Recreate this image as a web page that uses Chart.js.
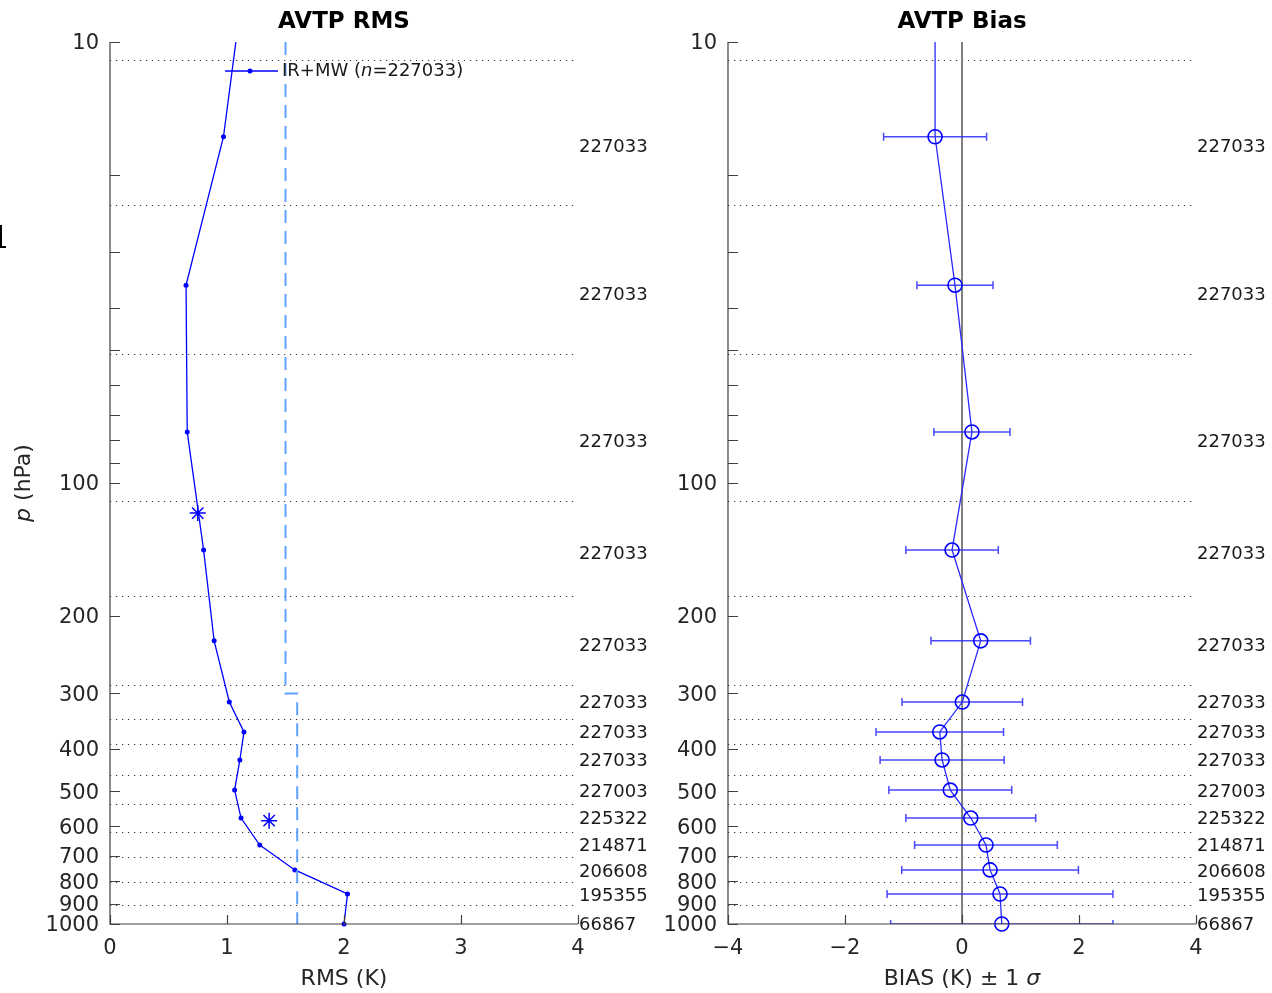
<!DOCTYPE html>
<html>
<head>
<meta charset="utf-8">
<script src="https://cdn.jsdelivr.net/npm/chart.js@4.4.1/dist/chart.umd.min.js"></script>
<style>
  html, body { margin: 0; padding: 0; background: #fff; }
  #painel { position: relative; width: 1272px; height: 993px; overflow: hidden; }
  #painel canvas { position: absolute; top: 0; }
  #graficoRms { left: 0; }
  #graficoBias { left: 660px; }
</style>
</head>
<body>
<div id="painel">
  <canvas id="graficoRms" width="660" height="993"></canvas>
  <canvas id="graficoBias" width="612" height="993"></canvas>
</div>
<script>
// Pressão média (hPa) de cada camada; a primeira fica acima do topo do eixo
const pressaoCamadas = [7.4, 16.4, 35.6, 76.6, 141.9, 228, 313.8, 366.9, 424.7, 497, 575, 662, 754, 855, 1000];
const rmsCamadas = [1.14, 0.97, 0.65, 0.66, 0.80, 0.89, 1.02, 1.145, 1.11, 1.065, 1.12, 1.28, 1.58, 2.03, 2.00];
const biasCamadas = [-0.46, -0.46, -0.12, 0.17, -0.17, 0.32, 0.005, -0.38, -0.34, -0.20, 0.15, 0.41, 0.48, 0.65, 0.68];
const sigmaCamadas = [0.88, 0.88, 0.65, 0.65, 0.79, 0.85, 1.03, 1.09, 1.06, 1.05, 1.11, 1.22, 1.51, 1.93, 1.90];

// Limites das camadas (linhas pontilhadas)
const limitesCamadas = [11, 23.4, 51, 110, 180, 287, 343, 391, 459, 534, 618, 705, 803, 906];

// Número de observações por camada e pressão onde cada número é escrito
const contagens = ['227033', '227033', '227033', '227033', '227033', '227033', '227033', '227033',
  '227003', '225322', '214871', '206608', '195355', '66867'];
const pressaoContagens = [17.2, 37.4, 80.3, 144.6, 233, 313.5, 367, 425, 499, 577, 662, 760, 860, 1000];

// Valores de referência (asteriscos)
const pressaoAsteriscos = [117, 583];
const rmsAsteriscos = [0.75, 1.36];

// Requisito de RMS por faixa de pressão
const pressaoRequisito = [10, 300, 300, 1000];
const rmsRequisito = [1.5, 1.5, 1.6, 1.6];

// Ticks dos eixos
const ticksPressao = [10, 20, 30, 40, 50, 60, 70, 80, 90, 100, 200, 300, 400, 500, 600, 700, 800, 900, 1000];
const rotulosPressao = [10, 100, 200, 300, 400, 500, 600, 700, 800, 900, 1000];
const ticksRms = [0, 1, 2, 3, 4];
const ticksBias = [-4, -2, 0, 2, 4];

const FONTE = 'DejaVu Sans';
const corTexto = '#262626';
const corEixo = '#404040';
const azul = '#0000ff';

function pontos(xs, ys) {
  return xs.map((v, i) => ({ x: v, y: ys[i] }));
}

/**
 * Eixo vertical de pressão (log, invertido)
 * @param {number} largura - largura reservada para os rótulos
 */
function eixoPressao(largura) {
  return {
    type: 'logarithmic',
    reverse: true,
    min: 10,
    max: 1000,
    afterBuildTicks: (eixo) => { eixo.ticks = ticksPressao.map(v => ({ value: v })); },
    afterFit: (eixo) => { eixo.width = largura; },
    grid: { display: false, drawTicks: false },
    border: { display: false },
    ticks: {
      autoSkip: false,
      padding: 11,
      labelOffset: 2,
      color: corTexto,
      font: { family: FONTE, size: 21 },
      callback: (v) => rotulosPressao.includes(v) ? String(v) : ''
    }
  };
}

function eixoHorizontal(min, max, valores) {
  return {
    type: 'linear',
    min: min,
    max: max,
    afterBuildTicks: (eixo) => { eixo.ticks = valores.map(v => ({ value: v })); },
    afterFit: (eixo) => { eixo.height = 69; },
    grid: { display: false, drawTicks: false },
    border: { display: false },
    ticks: {
      autoSkip: false,
      maxRotation: 0,
      padding: 12,
      color: corTexto,
      font: { family: FONTE, size: 21 },
      callback: (v) => String(v).replace('-', '\u2212')
    }
  };
}

// Escreve uma sequência de trechos (texto, itálico) centrada em cx
function textoMisto(ctx, trechos, cx, cy, tamanho) {
  const fonte = (it) => (it ? 'italic ' : '') + tamanho + 'px "' + FONTE + '"';
  let total = 0;
  trechos.forEach(([t, it]) => { ctx.font = fonte(it); total += ctx.measureText(t).width; });
  let x = cx - total / 2;
  ctx.textAlign = 'left';
  trechos.forEach(([t, it]) => {
    ctx.font = fonte(it);
    ctx.fillText(t, x, cy);
    x += ctx.measureText(t).width;
  });
}

/**
 * Plugin que desenha a moldura no estilo MATLAB: eixos, ticks internos,
 * linhas de camada, contagens, títulos e extras de cada painel
 */
function pluginMoldura(cfg) {
  return {
    id: 'moldura',
    beforeDatasetsDraw(chart) {
      const { ctx, chartArea: a, scales: { x, y } } = chart;
      ctx.save();
      ctx.strokeStyle = '#333333';
      ctx.lineWidth = 1.2;
      ctx.setLineDash([1.2, 4.8]);
      limitesCamadas.forEach(p => {
        const py = Math.round(y.getPixelForValue(p)) + 0.5;
        ctx.beginPath();
        ctx.moveTo(a.left, py);
        ctx.lineTo(a.right, py);
        ctx.stroke();
      });
      ctx.setLineDash([]);

      if (cfg.linhaZero) {
        const px = x.getPixelForValue(0);
        ctx.strokeStyle = '#808080';
        ctx.lineWidth = 2;
        ctx.beginPath();
        ctx.moveTo(px, a.top);
        ctx.lineTo(px, a.bottom);
        ctx.stroke();
      }

      if (cfg.barrasErro) {
        ctx.beginPath();
        ctx.rect(a.left, a.top, a.right - a.left, a.bottom - a.top);
        ctx.clip();
        ctx.strokeStyle = 'rgba(40, 40, 255, 0.85)';
        ctx.lineWidth = 1.5;
        pressaoCamadas.forEach((p, i) => {
          const py = y.getPixelForValue(p);
          const x1 = x.getPixelForValue(biasCamadas[i] - sigmaCamadas[i]);
          const x2 = x.getPixelForValue(biasCamadas[i] + sigmaCamadas[i]);
          ctx.beginPath();
          ctx.moveTo(x1, py); ctx.lineTo(x2, py);
          ctx.moveTo(x1, py - 4); ctx.lineTo(x1, py + 4);
          ctx.moveTo(x2, py - 4); ctx.lineTo(x2, py + 4);
          ctx.stroke();
        });
      }
      ctx.restore();
    },
    afterDatasetsDraw(chart) {
      const { ctx, chartArea: a, scales: { x, y } } = chart;
      ctx.save();

      // eixos esquerdo e inferior com ticks para dentro
      ctx.strokeStyle = corEixo;
      ctx.lineWidth = 1.2;
      ctx.beginPath();
      ctx.moveTo(a.left, a.top);
      ctx.lineTo(a.left, a.bottom);
      ctx.lineTo(a.right, a.bottom);
      ticksPressao.forEach(p => {
        const py = Math.round(y.getPixelForValue(p)) + 0.5;
        ctx.moveTo(a.left, py);
        ctx.lineTo(a.left + 10, py);
      });
      cfg.ticksX.forEach(v => {
        const px = Math.round(x.getPixelForValue(v)) + 0.5;
        ctx.moveTo(px, a.bottom);
        ctx.lineTo(px, a.bottom - 9);
      });
      ctx.stroke();

      // contagens à direita do painel
      ctx.fillStyle = '#1a1a1a';
      ctx.font = '18px "' + FONTE + '"';
      ctx.textAlign = 'left';
      ctx.textBaseline = 'middle';
      contagens.forEach((t, i) => {
        ctx.fillText(t, a.right + 1, y.getPixelForValue(pressaoContagens[i]) + 1);
      });

      // título
      const cx = (a.left + a.right) / 2;
      ctx.fillStyle = '#000';
      ctx.font = 'bold 23px "' + FONTE + '"';
      ctx.textAlign = 'center';
      ctx.fillText(cfg.titulo, cx, 22);

      // rótulo do eixo x
      ctx.fillStyle = corTexto;
      textoMisto(ctx, cfg.rotuloX, cx, 979, 22);

      if (cfg.rotuloY) {
        ctx.save();
        ctx.translate(24, (a.top + a.bottom) / 2);
        ctx.rotate(-Math.PI / 2);
        textoMisto(ctx, cfg.rotuloY, 0, 0, 22);
        ctx.restore();
      }

      if (cfg.legenda) {
        const ly = 71;
        ctx.strokeStyle = azul;
        ctx.lineWidth = 1.3;
        ctx.beginPath();
        ctx.moveTo(a.left + 115, ly);
        ctx.lineTo(a.left + 168, ly);
        ctx.stroke();
        ctx.fillStyle = azul;
        ctx.beginPath();
        ctx.arc(a.left + 140, ly, 2.5, 0, Math.PI * 2);
        ctx.fill();
        ctx.fillStyle = '#1a1a1a';
        ctx.textBaseline = 'middle';
        let tx = a.left + 172;
        cfg.legenda.forEach(([t, it]) => {
          ctx.font = (it ? 'italic ' : '') + '18px "' + FONTE + '"';
          ctx.textAlign = 'left';
          ctx.fillText(t, tx, ly);
          tx += ctx.measureText(t).width;
        });
      }

      if (cfg.marcaBorda) {
        ctx.strokeStyle = '#000';
        ctx.lineWidth = 2;
        ctx.beginPath();
        ctx.moveTo(1, 225);
        ctx.lineTo(1, 247);
        ctx.lineTo(6, 247);
        ctx.stroke();
      }
      ctx.restore();
    }
  };
}

const opcoesBase = (eixoX, larguraY, direita) => ({
  responsive: false,
  animation: false,
  devicePixelRatio: 1,
  layout: { padding: { top: 42, right: direita, bottom: 0, left: 0 } },
  plugins: { legend: { display: false }, tooltip: { enabled: false } },
  scales: { x: eixoX, y: eixoPressao(larguraY) }
});

const recorte = { left: 12, right: 12, top: 0, bottom: 12 };

// Painel esquerdo: RMS
new Chart(document.getElementById('graficoRms'), {
  type: 'scatter',
  data: {
    datasets: [
      {
        data: pontos(rmsRequisito, pressaoRequisito),
        showLine: true,
        borderColor: '#5fa2ff',
        borderWidth: 2,
        borderDash: [13, 8],
        pointRadius: 0,
        clip: recorte
      },
      {
        data: pontos(rmsCamadas, pressaoCamadas),
        showLine: true,
        borderColor: azul,
        borderWidth: 1.3,
        pointRadius: 2.5,
        pointBackgroundColor: azul,
        pointBorderWidth: 0,
        clip: recorte
      },
      {
        data: pontos(rmsAsteriscos, pressaoAsteriscos),
        showLine: false,
        pointStyle: 'star',
        pointRadius: 8,
        borderColor: azul,
        borderWidth: 1.5,
        clip: recorte
      }
    ]
  },
  options: opcoesBase(eixoHorizontal(0, 4, ticksRms), 110, 82),
  plugins: [pluginMoldura({
    titulo: 'AVTP RMS',
    ticksX: ticksRms,
    rotuloX: [['RMS (K)', false]],
    rotuloY: [['p', true], [' (hPa)', false]],
    legenda: [['IR+MW (', false], ['n', true], ['=227033)', false]],
    marcaBorda: true
  })]
});

// Painel direito: viés com barras de ±1 sigma
new Chart(document.getElementById('graficoBias'), {
  type: 'scatter',
  data: {
    datasets: [
      {
        data: pontos(biasCamadas, pressaoCamadas),
        showLine: true,
        borderColor: '#2a2aff',
        borderWidth: 1.3,
        pointStyle: 'circle',
        pointRadius: 7,
        pointBorderColor: azul,
        pointBorderWidth: 1.6,
        pointBackgroundColor: 'rgba(0,0,0,0)',
        clip: recorte
      }
    ]
  },
  options: opcoesBase(eixoHorizontal(-4, 4, ticksBias), 68, 76),
  plugins: [pluginMoldura({
    titulo: 'AVTP Bias',
    ticksX: ticksBias,
    rotuloX: [['BIAS (K) \u00b1 1 ', false], ['\u03c3', true]],
    linhaZero: true,
    barrasErro: true
  })]
});
</script>
</body>
</html>
